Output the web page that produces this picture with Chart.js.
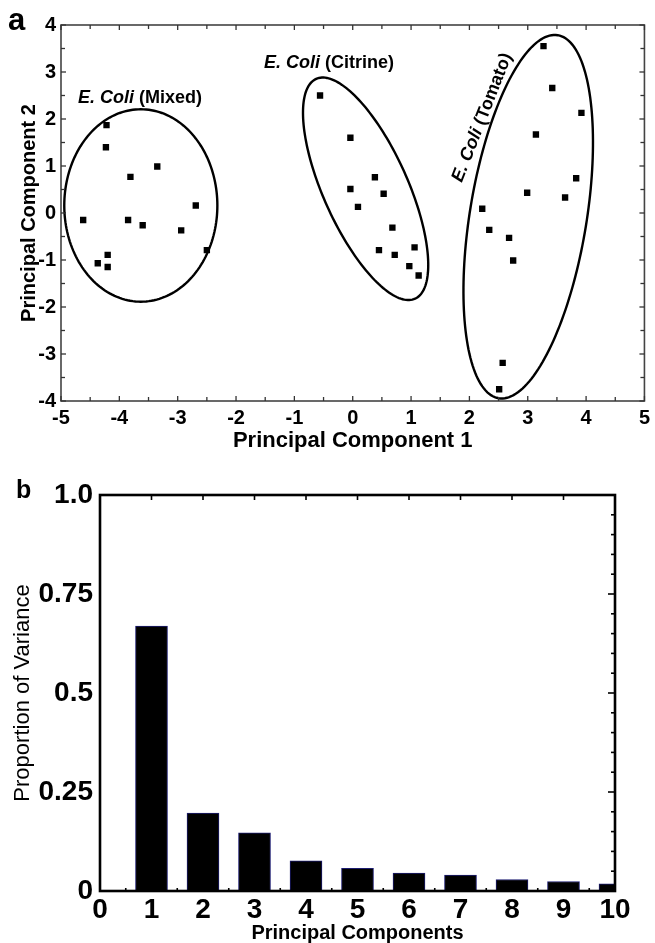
<!DOCTYPE html>
<html><head><meta charset="utf-8">
<script src="https://cdn.jsdelivr.net/npm/chart.js@4/dist/chart.umd.min.js"></script>
<style>
html,body{margin:0;padding:0;background:#fff;}
#wrapA{position:absolute;left:0;top:0;width:655px;height:455px;}
#wrapB{position:absolute;left:0;top:455px;width:655px;height:488px;}
canvas{display:block;}
</style></head><body>
<div id="wrapA"><canvas id="cA" width="655" height="455"></canvas></div>
<div id="wrapB"><canvas id="cB" width="655" height="488"></canvas></div>
<script>
// ---------- Panel a: PCA scores ----------
const mixedX   = [-4.62, -4.22, -4.23, -3.81, -3.35, -3.85, -3.60, -2.69, -2.94, -2.50, -4.20, -4.20, -4.37];
const mixedY   = [-0.15,  1.87,  1.40,  0.77,  0.99, -0.15, -0.26,  0.16, -0.37, -0.79, -0.89, -1.15, -1.07];
const citrineX = [-0.56, -0.04, 0.38, -0.04, 0.53, 0.09, 0.68, 0.45, 0.72, 1.06, 0.97, 1.13];
const citrineY = [ 2.50,  1.60, 0.76,  0.51, 0.41, 0.13, -0.31, -0.79, -0.89, -0.73, -1.13, -1.33];
const tomatoX  = [3.27, 3.42, 3.92, 3.14, 3.83, 2.99, 3.64, 2.22, 2.34, 2.68, 2.75, 2.57, 2.51];
const tomatoY  = [3.55, 2.66, 2.13, 1.67, 0.74, 0.43, 0.33, 0.09, -0.36, -0.53, -1.01, -3.19, -3.75];
const groupNames = ['Mixed', 'Citrine', 'Tomato'];
// confidence ellipses: centre and two conjugate semi-axis vectors (data units)
const ellipseCX = [-3.632, 0.221, 3.008];
const ellipseCY = [ 0.160, 0.515, -0.079];
const ellipseUX = [ 1.312, 0.848, -0.506];
const ellipseUY = [ 0.000, -2.338, -3.862];
const ellipseVX = [ 0.000, 0.658, 0.988];
const ellipseVY = [ 2.047, 0.372, -0.202];
const pc1Ticks = [-5, -4, -3, -2, -1, 0, 1, 2, 3, 4, 5];
const pc2Ticks = [-4, -3, -2, -1, 0, 1, 2, 3, 4];

// ---------- Panel b: explained variance ----------
const components = [1, 2, 3, 4, 5, 6, 7, 8, 9, 10];
const variance   = [0.669, 0.197, 0.147, 0.076, 0.057, 0.045, 0.040, 0.029, 0.024, 0.018];
const compTicks  = [0, 1, 2, 3, 4, 5, 6, 7, 8, 9, 10];
const varTicks   = [0, 0.25, 0.5, 0.75, 1];
const varTickLabels = ['0', '0.25', '0.5', '0.75', '1.0'];

const FAM = "'Liberation Sans', Arial, sans-serif";

function pts(xs, ys) { return xs.map((x, i) => ({x: x, y: ys[i]})); }
function seg(ctx, x1, y1, x2, y2) { ctx.beginPath(); ctx.moveTo(x1, y1); ctx.lineTo(x2, y2); ctx.stroke(); }

function drawLabel(ctx, x, y, italicPart, plainPart, size, angle) {
  ctx.save();
  ctx.translate(x, y);
  if (angle) ctx.rotate(angle);
  ctx.fillStyle = '#000';
  ctx.textBaseline = 'alphabetic';
  ctx.textAlign = 'left';
  ctx.font = 'italic bold ' + size + 'px ' + FAM;
  ctx.fillText(italicPart, 0, 0);
  const w = ctx.measureText(italicPart).width;
  ctx.font = 'bold ' + size + 'px ' + FAM;
  ctx.fillText(plainPart, w, 0);
  ctx.restore();
}

const decorA = {
  id: 'decorA',
  afterDatasetsDraw(chart) {
    const {ctx, scales: {x, y}} = chart;
    ctx.save();
    ctx.strokeStyle = '#000';
    ctx.lineWidth = 2.4;
    for (let g = 0; g < ellipseCX.length; g++) {
      ctx.beginPath();
      for (let k = 0; k <= 180; k++) {
        const t = k / 180 * Math.PI * 2;
        const dx = ellipseCX[g] + Math.cos(t) * ellipseUX[g] + Math.sin(t) * ellipseVX[g];
        const dy = ellipseCY[g] + Math.cos(t) * ellipseUY[g] + Math.sin(t) * ellipseVY[g];
        const px = x.getPixelForValue(dx), py = y.getPixelForValue(dy);
        if (k === 0) ctx.moveTo(px, py); else ctx.lineTo(px, py);
      }
      ctx.closePath();
      ctx.stroke();
    }
    ctx.restore();
  },
  afterDraw(chart) {
    const {ctx, chartArea: {left, top, right, bottom}, scales: {x, y}} = chart;
    ctx.save();
    ctx.strokeStyle = '#444';
    ctx.lineWidth = 1.6;
    ctx.strokeRect(left, top, right - left, bottom - top);
    ctx.lineWidth = 1.3;
    ctx.strokeStyle = '#333';
    for (let v = -5; v <= 5.001; v += 0.5) {
      const px = x.getPixelForValue(v);
      const len = Math.abs(v - Math.round(v)) < 1e-6 ? 5 : 4;
      seg(ctx, px, bottom, px, bottom - len);
      seg(ctx, px, top, px, top + len);
    }
    for (let v = -4; v <= 4.001; v += 0.5) {
      const py = y.getPixelForValue(v);
      const len = Math.abs(v - Math.round(v)) < 1e-6 ? 5 : 4;
      seg(ctx, left, py, left + len, py);
      seg(ctx, right, py, right - len, py);
    }
    // annotations
    drawLabel(ctx, x.getPixelForValue(-4.71), y.getPixelForValue(2.34), 'E. Coli', ' (Mixed)', 18, 0);
    drawLabel(ctx, x.getPixelForValue(-1.52), y.getPixelForValue(3.09), 'E. Coli', ' (Citrine)', 18, 0);
    drawLabel(ctx, x.getPixelForValue(1.87), y.getPixelForValue(0.64), 'E. Coli', ' (Tomato)', 18, -68.5 * Math.PI / 180);
    // panel letter
    ctx.fillStyle = '#000';
    ctx.font = 'bold 31px ' + FAM;
    ctx.textBaseline = 'alphabetic';
    ctx.fillText('a', 8, 30);
    ctx.restore();
  }
};

const decorB = {
  id: 'decorB',
  afterDraw(chart) {
    const {ctx, chartArea: {left, top, right, bottom}, scales: {x, y}} = chart;
    ctx.save();
    ctx.strokeStyle = '#000';
    ctx.lineWidth = 1.6;
    for (let v = 1; v <= 9; v++) {
      const px = x.getPixelForValue(v);
      seg(ctx, px, top, px, top + 5);
    }
    for (let v = 0.5; v < 10; v += 1) {
      const px = x.getPixelForValue(v);
      seg(ctx, px, bottom, px, bottom - 3);
    }
    for (let k = 1; k < 20; k++) {
      const py = y.getPixelForValue(k * 0.05);
      const len = (k % 5 === 0) ? 7 : 4;
      seg(ctx, right, py, right - len, py);
    }
    ctx.lineWidth = 2.6;
    ctx.strokeRect(left, top, right - left, bottom - top);
    ctx.fillStyle = '#000';
    ctx.font = 'bold 25px ' + FAM;
    ctx.textBaseline = 'alphabetic';
    ctx.fillText('b', 16, 43);
    ctx.restore();
  }
};

new Chart(document.getElementById('cA'), {
  type: 'scatter',
  data: {
    datasets: [
      {label: groupNames[0], data: pts(mixedX, mixedY)},
      {label: groupNames[1], data: pts(citrineX, citrineY)},
      {label: groupNames[2], data: pts(tomatoX, tomatoY)}
    ].map(d => Object.assign(d, {pointStyle: 'rect', pointRadius: 4.5, backgroundColor: '#000', borderColor: '#000', borderWidth: 0}))
  },
  options: {
    responsive: false,
    animation: false,
    layout: {padding: {top: 25, right: 7, left: 0, bottom: 0}},
    plugins: {legend: {display: false}, tooltip: {enabled: false}},
    scales: {
      x: {
        type: 'linear', min: -5, max: 5,
        grid: {display: false, drawTicks: false}, border: {display: false},
        afterBuildTicks: s => { s.ticks = pc1Ticks.map(v => ({value: v})); },
        ticks: {color: '#000', font: {family: FAM, weight: 'bold', size: 20}, padding: 5, maxRotation: 0, autoSkip: false},
        title: {display: true, text: 'Principal Component 1', color: '#000', font: {family: FAM, weight: 'bold', size: 22}, padding: {top: 0, bottom: 1}},
        afterFit: s => { s.height = 54; }
      },
      y: {
        type: 'linear', min: -4, max: 4,
        grid: {display: false, drawTicks: false}, border: {display: false},
        afterBuildTicks: s => { s.ticks = pc2Ticks.map(v => ({value: v})); },
        ticks: {color: '#000', font: {family: FAM, weight: 'bold', size: 20}, padding: 5, autoSkip: false},
        title: {display: true, text: 'Principal Component 2', color: '#000', font: {family: FAM, weight: 'bold', size: 20}, padding: {top: 17, bottom: 0}},
        afterFit: s => { s.width = 61; }
      }
    }
  },
  plugins: [decorA]
});

new Chart(document.getElementById('cB'), {
  type: 'bar',
  data: {
    datasets: [{
      label: 'Proportion of Variance',
      data: pts(components, variance),
      backgroundColor: '#000',
      borderColor: '#1c1c70',
      borderWidth: 1,
      borderSkipped: false,
      barThickness: 32
    }]
  },
  options: {
    responsive: false,
    animation: false,
    layout: {padding: {top: 40, right: 40, left: 0, bottom: 0}},
    plugins: {legend: {display: false}, tooltip: {enabled: false}},
    scales: {
      x: {
        type: 'linear', min: 0, max: 10, offset: false,
        grid: {display: false, drawTicks: false, offset: false}, border: {display: false},
        afterBuildTicks: s => { s.ticks = compTicks.map(v => ({value: v})); },
        ticks: {color: '#000', font: {family: FAM, weight: 'bold', size: 28}, padding: 2, maxRotation: 0, autoSkip: false},
        title: {display: true, text: 'Principal Components', color: '#000', font: {family: FAM, weight: 'bold', size: 20, lineHeight: 1}, padding: {top: 0, bottom: 0}},
        afterFit: s => { s.height = 52; }
      },
      y: {
        type: 'linear', min: 0, max: 1,
        grid: {display: false, drawTicks: false}, border: {display: false},
        afterBuildTicks: s => { s.ticks = varTicks.map(v => ({value: v})); },
        ticks: {color: '#000', font: {family: FAM, weight: 'bold', size: 28}, padding: 7, autoSkip: false,
          callback: (v) => varTickLabels[varTicks.indexOf(v)]},
        title: {display: true, text: 'Proportion of Variance', color: '#000', font: {family: FAM, weight: 'normal', size: 22}, padding: {top: 10, bottom: 0}},
        afterFit: s => { s.width = 100; }
      }
    }
  },
  plugins: [decorB]
});
</script>
</body></html>
